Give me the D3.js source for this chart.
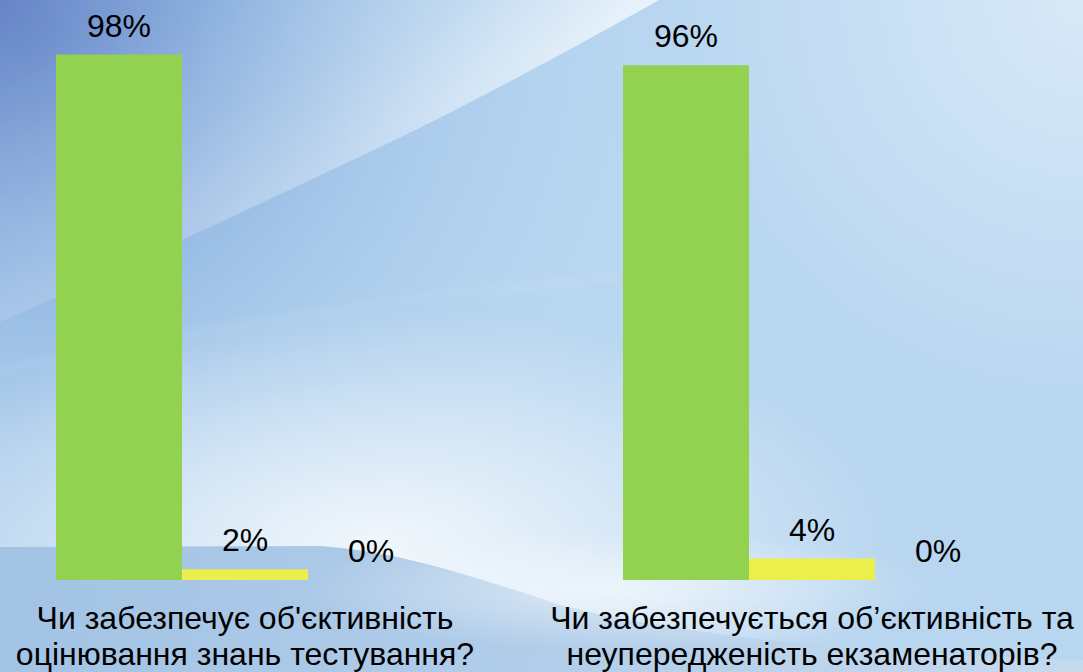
<!DOCTYPE html>
<html>
<head>
<meta charset="utf-8">
<script src="https://cdn.jsdelivr.net/npm/d3@7"></script>
<style>
  html, body { margin: 0; padding: 0; background: #b8d6f0; }
  svg { display: block; }
</style>
</head>
<body>
<svg id="chart" width="1083" height="672"></svg>
<script>
// ---- data ----
const categories = [
  ["Чи забезпечує об'єктивність", "оцінювання знань тестування?"],
  ["Чи забезпечується об’єктивність та", "неупередженість екзаменаторів?"]
];
const seriesNames = ["Так", "Ні", "Не знаю"];
const seriesYes = [0.98, 0.96];
const seriesNo = [0.02, 0.04];
const seriesUnknown = [0.00, 0.00];
const valueLabels = [["98%", "2%", "0%"], ["96%", "4%", "0%"]];
const seriesColors = ["#93d150", "#ebef4b", "#4f81bd"];

const W = 1083, H = 672;
const svg = d3.select("#chart");
const defs = svg.append("defs");

// ---- background (slide theme) ----
function stops(g, arr) {
  arr.forEach(s => g.append("stop").attr("offset", s[0]).attr("stop-color", s[1])
    .attr("stop-opacity", s[2] === undefined ? 1 : s[2]));
}
function lg(id, x1, y1, x2, y2, arr) {
  const g = defs.append("linearGradient").attr("id", id).attr("gradientUnits", "userSpaceOnUse")
    .attr("x1", x1).attr("y1", y1).attr("x2", x2).attr("y2", y2);
  stops(g, arr);
}
function rg(id, cx, cy, r, arr, tr) {
  const g = defs.append("radialGradient").attr("id", id).attr("gradientUnits", "userSpaceOnUse")
    .attr("cx", cx).attr("cy", cy).attr("r", r);
  if (tr) g.attr("gradientTransform", tr);
  stops(g, arr);
}
rg("tl", 0, 0, 640, [[0, "#6684c6", 1], [0.35, "#84aadc", 0.85], [0.7, "#9cc1e7", 0.45], [1, "#a8cbeb", 0]]);
rg("tr", 1083, 0, 420, [[0, "#dcebf8", 0.9], [1, "#dcebf8", 0]]);
lg("wedgeAlong", 0, 322, 659, 0, [[0, "#ffffff", 0.12], [0.5, "#ffffff", 0.3], [1, "#ffffff", 0.7]]);
lg("wedgeFade", 330, 161, 230, -40, [[0, "#ffffff"], [0.4, "#808080"], [1, "#000000"]]);
rg("lowLight", 0, 0, 1, [[0, "#ffffff", 0.8], [0.5, "#ffffff", 0.4], [1, "#ffffff", 0]],
  "translate(380,545) scale(520,240)");
lg("bottomBand", 0, 547, 1083, 672, [[0, "#a2c3e4"], [0.45, "#afcce9"], [1, "#c6daee"]]);
rg("brLight", 0, 0, 1, [[0, "#ffffff", 0.55], [1, "#ffffff", 0]], "translate(620,590) scale(320,60)");

const mask = defs.append("mask").attr("id", "wedgeMask").attr("maskUnits", "userSpaceOnUse")
  .attr("x", 0).attr("y", 0).attr("width", W).attr("height", H);
mask.append("rect").attr("width", W).attr("height", H).attr("fill", "url(#wedgeFade)");

const blur = defs.append("filter").attr("id", "soft").attr("x", "-20%").attr("y", "-50%").attr("width", "140%").attr("height", "200%");
blur.append("feGaussianBlur").attr("stdDeviation", 4);

const bg = svg.append("g");
bg.append("rect").attr("width", W).attr("height", H).attr("fill", "#b8d6f0");
bg.append("rect").attr("width", W).attr("height", H).attr("fill", "url(#tl)");
bg.append("rect").attr("width", W).attr("height", H).attr("fill", "url(#tr)");
// diagonal light wedge with sharp lower edge
bg.append("path").attr("d", "M0,322 C120,270 300,185 395,140 C460,108 540,67 659,0 L0,0 Z")
  .attr("fill", "url(#wedgeAlong)").attr("mask", "url(#wedgeMask)");
// faint streak
bg.append("path").attr("d", "M0,370 C150,340 350,300 640,275").attr("fill", "none")
  .attr("stroke", "#ffffff").attr("stroke-opacity", 0.3).attr("stroke-width", 2).attr("filter", "url(#soft)");
// lower light area
bg.append("rect").attr("x", 0).attr("y", 280).attr("width", W).attr("height", 392).attr("fill", "url(#lowLight)");
// bottom darker band
bg.append("path").attr("d", "M0,547 L320,546 C400,552 470,575 560,605 C700,640 900,655 1083,660 L1083,672 L0,672 Z")
  .attr("fill", "url(#bottomBand)");
// light band on bottom right
bg.append("rect").attr("x", 300).attr("y", 520).attr("width", 783).attr("height", 152).attr("fill", "url(#brLight)");

// ---- scales ----
const x0 = d3.scaleBand()
  .domain(d3.range(categories.length))
  .range([-38.5, 1095.5])
  .paddingInner(1 / 3)
  .paddingOuter(1 / 6);
const x1 = d3.scaleBand()
  .domain(d3.range(seriesNames.length))
  .range([0, x0.bandwidth()]);
const y = d3.scaleLinear().domain([0, 1]).range([580, 43.8]);

const seriesValues = [seriesYes, seriesNo, seriesUnknown];

const groups = svg.append("g").selectAll("g")
  .data(categories.map((c, i) => i))
  .join("g")
  .attr("transform", i => `translate(${x0(i)},0)`);

groups.selectAll("rect")
  .data(i => seriesValues.map((s, k) => ({ k, v: s[i] })))
  .join("rect")
  .attr("x", d => x1(d.k))
  .attr("width", x1.bandwidth())
  .attr("y", d => y(d.v))
  .attr("height", d => y(0) - y(d.v))
  .attr("fill", d => seriesColors[d.k]);

groups.selectAll("text.val")
  .data(i => seriesValues.map((s, k) => ({ k, v: s[i], t: valueLabels[i][k] })))
  .join("text")
  .attr("class", "val")
  .attr("x", d => x1(d.k) + x1.bandwidth() / 2)
  .attr("y", d => y(d.v) - 18)
  .attr("text-anchor", "middle")
  .attr("font-family", "'Liberation Sans', Arial, sans-serif")
  .attr("font-size", 32)
  .attr("fill", "#000")
  .text(d => d.t);

// category labels
const catG = svg.append("g");
categories.forEach((lines, i) => {
  const cx = x0(i) + x0.bandwidth() / 2;
  const t = catG.append("text")
    .attr("x", cx)
    .attr("y", 629)
    .attr("text-anchor", "middle")
    .attr("font-family", "'Liberation Sans', Arial, sans-serif")
    .attr("font-size", 32)
    .attr("fill", "#000");
  lines.forEach((ln, j) => {
    t.append("tspan").attr("x", cx).attr("dy", j === 0 ? 0 : 36).text(ln);
  });
});
</script>
</body>
</html>
